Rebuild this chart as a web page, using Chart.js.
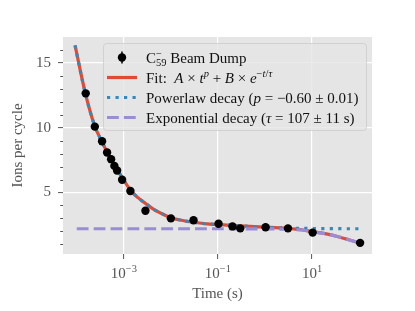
<!DOCTYPE html>
<html>
<head>
<meta charset="utf-8">
<script src="https://cdn.jsdelivr.net/npm/chart.js@4.4.1/dist/chart.umd.min.js"></script>
<style>
  html, body { margin: 0; padding: 0; background: #fff; }
</style>
</head>
<body>
<canvas id="chart" width="415" height="311"></canvas>
<script>
// beam dump measurements (time in s, ions per cycle)
const dumpTime = [1.55e-4, 2.42e-4, 3.45e-4, 4.41e-4, 5.37e-4, 6.3e-4, 7.2e-4, 9.2e-4, 1.38e-3, 2.88e-3,
  1.0e-2, 3.03e-2, 0.103, 0.204, 0.298, 1.03, 3.08, 10.3, 105];
const dumpIons = [12.65, 10.08, 8.95, 8.08, 7.57, 7.05, 6.69, 5.98, 5.11, 3.59,
  3.0, 2.85, 2.59, 2.38, 2.23, 2.31, 2.23, 1.9, 1.11];

// fit curve and its power-law part
const fitTime = [9.2e-5, 1.5e-4, 2.4e-4, 3.5e-4, 5e-4, 7e-4, 1e-3, 1.4e-3, 2e-3, 2.9e-3, 4.5e-3, 7e-3,
  0.01, 0.02, 0.03, 0.06, 0.1, 0.2, 0.3, 0.6, 1, 2, 3, 6, 10, 20, 33, 60, 105];
const fitIons = [16.35, 12.75, 10.15, 8.85, 7.75, 6.85, 5.95, 5.15, 4.6, 4.15, 3.65, 3.3,
  3.05, 2.8, 2.7, 2.57, 2.53, 2.46, 2.42, 2.36, 2.32, 2.27, 2.23, 2.12, 1.98, 1.8, 1.62, 1.35, 1.08];
const powerIons = [16.35, 12.75, 10.15, 8.85, 7.75, 6.85, 5.95, 5.15, 4.6, 4.15, 3.65, 3.3,
  3.05, 2.8, 2.7, 2.57, 2.53, 2.46, 2.42, 2.35, 2.3, 2.27, 2.25, 2.23, 2.22, 2.21, 2.21, 2.2, 2.2];

// exponential part
const expTime = [1e-4, 1e-2, 1, 3, 6, 10, 20, 33, 60, 105];
const expIons = [2.2, 2.2, 2.19, 2.16, 2.1, 1.97, 1.8, 1.62, 1.35, 1.08];

const xTicks = [1e-3, 1e-1, 10];
const xTickExp = ['\u22123', '\u22121', '1'];
const yTicks = [5, 10, 15];
const yMinor = [1, 2, 3, 4, 6, 7, 8, 9, 11, 12, 13, 14, 16];

const SERIF = '"Liberation Serif", "DejaVu Serif", serif';
const RED = '#E24A33', BLUE = '#348ABD', PURPLE = '#988ED5';
const LW = 3.2;

const pts = (xs, ys) => xs.map((x, i) => ({ x, y: ys[i] }));

// draw a run of text pieces (italic / sub / superscript)
function drawParts(ctx, x, y, parts, size) {
  parts.forEach(p => {
    const s = size * (p.s || 1);
    ctx.font = (p.i ? 'italic ' : '') + s + 'px ' + SERIF;
    ctx.fillText(p.t, x, y + (p.dy || 0));
    if (!p.keep) x += ctx.measureText(p.t).width;
  });
  return x;
}

const legendRows = [
  { handle: 'point', parts: [{ t: 'C' }, { t: '\u2212', s: 0.7, dy: -6, keep: true }, { t: '59', s: 0.7, dy: 3 }, { t: ' Beam Dump' }] },
  { handle: 'solid', parts: [{ t: 'Fit:  ' }, { t: 'A', i: 1 }, { t: ' \u00d7 ' }, { t: 't', i: 1 }, { t: 'p', i: 1, s: 0.7, dy: -6 },
    { t: ' + ' }, { t: 'B', i: 1 }, { t: ' \u00d7 ' }, { t: 'e', i: 1 }, { t: '\u2212', s: 0.7, dy: -6 }, { t: 't', i: 1, s: 0.7, dy: -6 },
    { t: '/', s: 0.7, dy: -6 }, { t: '\u03c4', i: 1, s: 0.7, dy: -6 }] },
  { handle: 'dotted', parts: [{ t: 'Powerlaw decay (' }, { t: 'p', i: 1 }, { t: ' = \u22120.60 \u00b1 0.01)' }] },
  { handle: 'dashed', parts: [{ t: 'Exponential decay (' }, { t: '\u03c4', i: 1 }, { t: ' = 107 \u00b1 11 s)' }] }
];

const decorPlugin = {
  id: 'decor',
  beforeDraw(chart) {
    const { ctx, chartArea: a } = chart;
    ctx.save();
    ctx.fillStyle = '#E5E5E5';
    ctx.fillRect(a.left, a.top, a.right - a.left, a.bottom - a.top);
    ctx.restore();
  },
  afterDraw(chart) {
    const { ctx, chartArea: a, scales } = chart;
    ctx.save();
    // y minor ticks
    ctx.strokeStyle = '#555555';
    ctx.lineWidth = 1;
    yMinor.forEach(v => {
      const y = Math.round(scales.y.getPixelForValue(v)) + 0.5;
      ctx.beginPath();
      ctx.moveTo(a.left - 2.8, y);
      ctx.lineTo(a.left, y);
      ctx.stroke();
    });
    // x tick labels as 10^n
    ctx.fillStyle = '#555555';
    ctx.textBaseline = 'alphabetic';
    xTicks.forEach((v, i) => {
      const cx = scales.x.getPixelForValue(v);
      ctx.font = '15px ' + SERIF;
      const w1 = ctx.measureText('10').width;
      ctx.font = '10.5px ' + SERIF;
      const w2 = ctx.measureText(xTickExp[i]).width;
      const x0 = cx - (w1 + w2) / 2;
      drawParts(ctx, x0, a.bottom + 24, [{ t: '10' }, { t: xTickExp[i], s: 0.7, dy: -6 }], 15);
    });
    // legend
    const bx = a.left + 40, by = a.top + 6, bw = 263, bh = 87;
    ctx.fillStyle = 'rgba(229,229,229,0.8)';
    ctx.strokeStyle = 'rgba(204,204,204,0.8)';
    ctx.lineWidth = 1;
    ctx.beginPath();
    ctx.roundRect(bx + 0.5, by + 0.5, bw, bh, 3);
    ctx.fill();
    ctx.stroke();
    legendRows.forEach((row, i) => {
      const ry = by + 14.5 + i * 20;
      const hx = bx + 4, hw = 30;
      ctx.setLineDash([]);
      if (row.handle === 'point') {
        ctx.strokeStyle = '#000';
        ctx.lineWidth = 1.5;
        ctx.beginPath();
        ctx.moveTo(hx + hw / 2, ry - 6);
        ctx.lineTo(hx + hw / 2, ry + 6);
        ctx.stroke();
        ctx.fillStyle = '#000';
        ctx.beginPath();
        ctx.arc(hx + hw / 2, ry, 4.2, 0, Math.PI * 2);
        ctx.fill();
      } else {
        ctx.lineWidth = LW;
        ctx.strokeStyle = row.handle === 'solid' ? RED : row.handle === 'dotted' ? BLUE : PURPLE;
        if (row.handle === 'dotted') ctx.setLineDash([3.2, 5.3]);
        if (row.handle === 'dashed') ctx.setLineDash([11.8, 5.1]);
        ctx.beginPath();
        ctx.moveTo(hx, ry);
        ctx.lineTo(hx + hw, ry);
        ctx.stroke();
      }
      ctx.setLineDash([]);
      ctx.fillStyle = '#111';
      drawParts(ctx, bx + 43, ry + 5, row.parts, 15);
    });
    ctx.restore();
  }
};

new Chart(document.getElementById('chart'), {
  type: 'scatter',
  data: {
    datasets: [
      { label: 'Beam Dump', data: pts(dumpTime, dumpIons), pointRadius: 4.2, pointBackgroundColor: '#000',
        pointBorderWidth: 0, showLine: false },
      { label: 'Exponential decay', data: pts(expTime, expIons), showLine: true, pointRadius: 0,
        borderColor: PURPLE, borderWidth: LW, borderDash: [11.8, 5.1], cubicInterpolationMode: 'monotone' },
      { label: 'Powerlaw decay', data: pts(fitTime, powerIons), showLine: true, pointRadius: 0,
        borderColor: BLUE, borderWidth: LW, borderDash: [3.2, 5.3], cubicInterpolationMode: 'monotone' },
      { label: 'Fit', data: pts(fitTime, fitIons), showLine: true, pointRadius: 0,
        borderColor: RED, borderWidth: LW, cubicInterpolationMode: 'monotone' }
    ]
  },
  options: {
    responsive: false,
    animation: false,
    devicePixelRatio: 1,
    layout: { padding: { left: 0, top: 37, right: 43, bottom: 0 } },
    plugins: { legend: { display: false }, tooltip: { enabled: false } },
    scales: {
      x: {
        type: 'logarithmic',
        min: 5.1e-5,
        max: 188,
        afterBuildTicks: s => { s.ticks = xTicks.map(v => ({ value: v })); },
        afterFit: s => { s.height = 57; },
        border: { display: false },
        grid: { color: '#ffffff', lineWidth: 1.2, tickColor: '#555555', tickLength: 5, tickWidth: 1 },
        ticks: { callback: () => '', autoSkip: false, maxRotation: 0 },
        title: { display: true, text: 'Time (s)', color: '#555555', font: { family: SERIF, size: 15 },
          padding: { top: 0, bottom: 8 } }
      },
      y: {
        min: 0.25,
        max: 17,
        afterBuildTicks: s => { s.ticks = yTicks.map(v => ({ value: v })); },
        afterFit: s => { s.width = 63; },
        border: { display: false },
        grid: { color: '#ffffff', lineWidth: 1.2, tickColor: '#555555', tickLength: 5, tickWidth: 1 },
        ticks: { color: '#555555', font: { family: SERIF, size: 15 }, padding: 7 },
        title: { display: true, text: 'Ions per cycle', color: '#555555', font: { family: SERIF, size: 15 },
          padding: { top: 9.5, bottom: 0 } }
      }
    }
  },
  plugins: [decorPlugin]
});
</script>
</body>
</html>
